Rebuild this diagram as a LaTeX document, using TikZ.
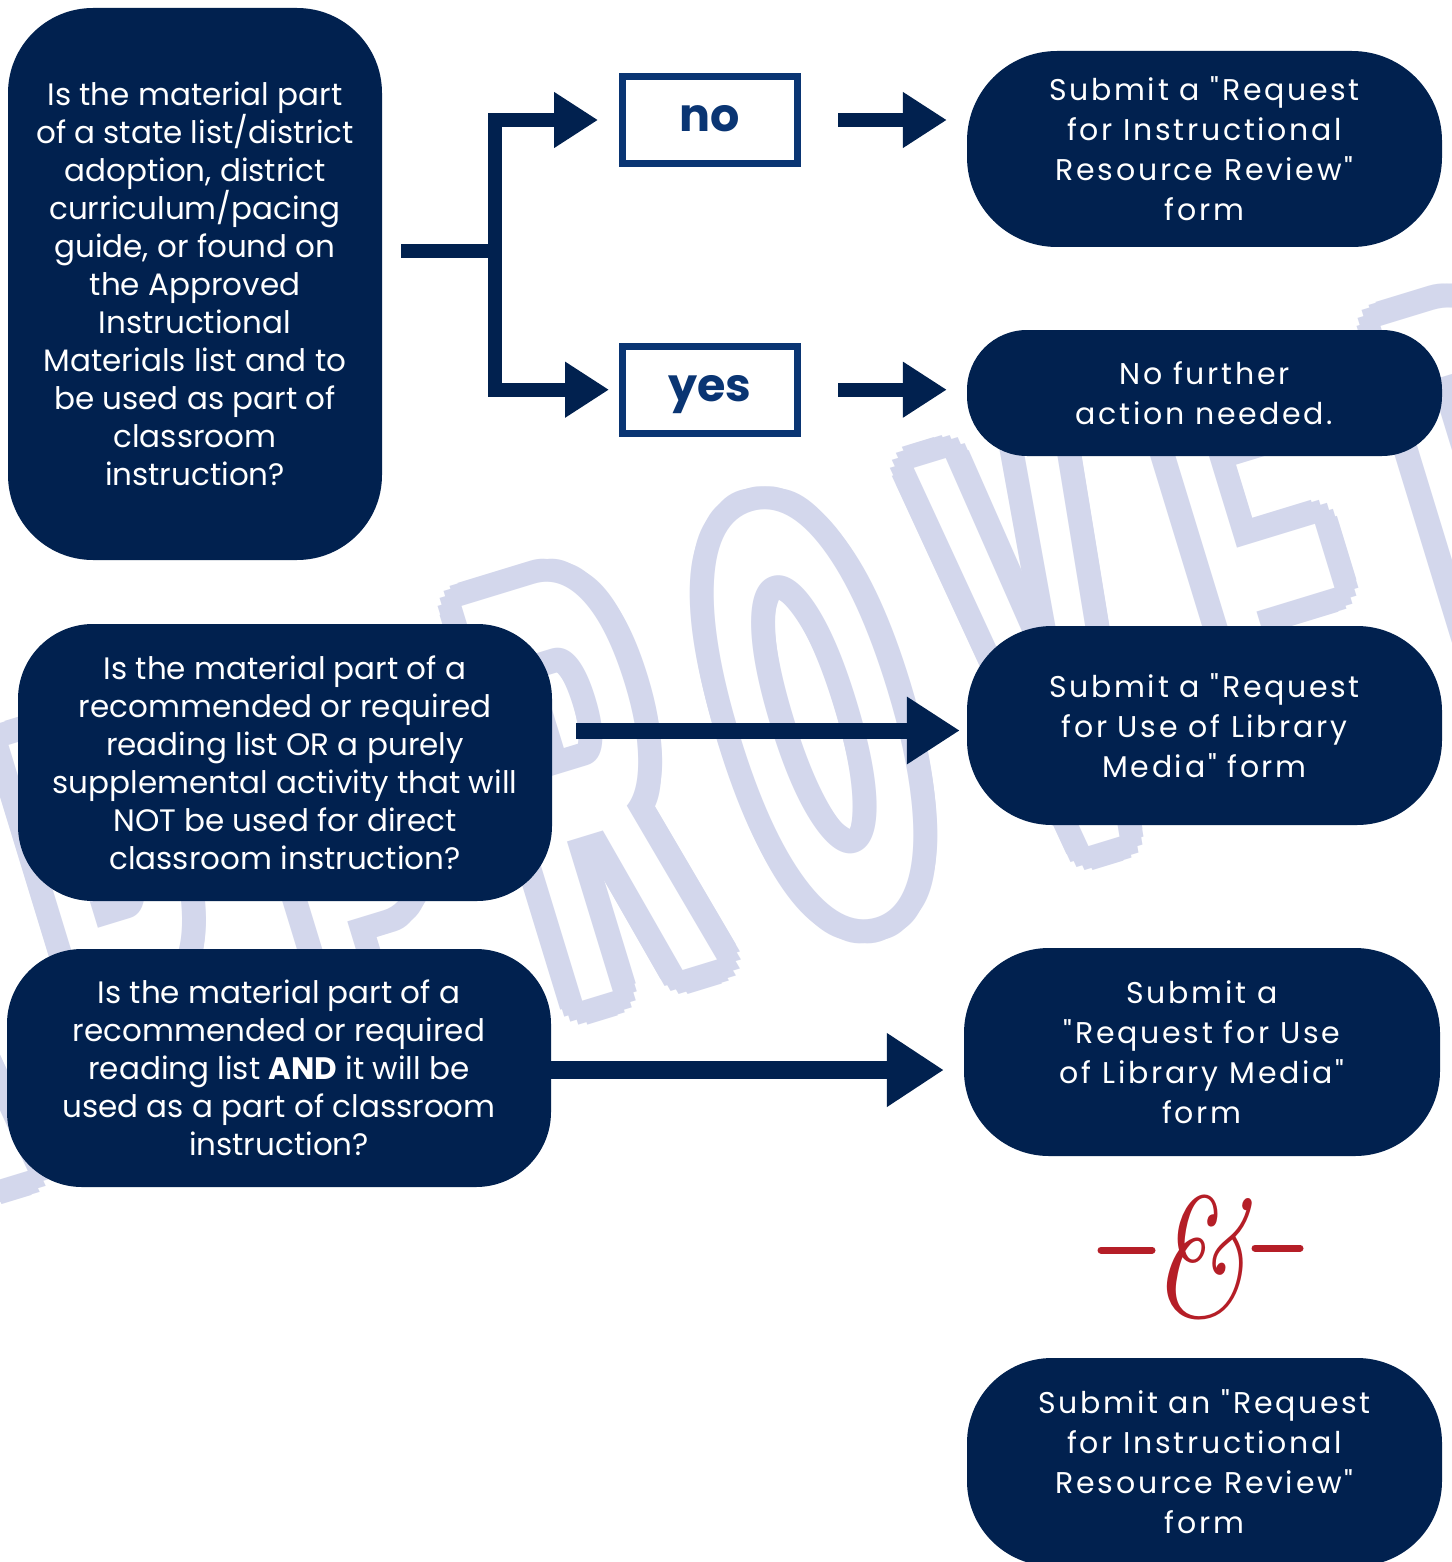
\documentclass[tikz,border=0pt]{standalone}
\usepackage{fontspec}
\usepackage{graphicx}
\setmainfont{Poppins}[Ligatures=TeXOff]
\newfontfamily\stampfont{Liberation Sans}
\newfontfamily\ampfont{Latin Modern Roman}
\usetikzlibrary{arrows.meta,calc}
\definecolor{navy}{HTML}{01214F}
\definecolor{boxblue}{HTML}{0A3573}
\definecolor{ampred}{HTML}{B51E27}
\definecolor{stampc}{HTML}{D3D7EC}
\tikzset{%
  tipS/.tip={Triangle[length=44pt,width=53pt]},
  tipM/.tip={Triangle[length=53pt,width=64pt]},
  tipL/.tip={Triangle[length=57pt,width=70pt]},
  bar/.style={navy, line width=14pt},
  qbox/.style={fill=navy, text=white, align=center, inner sep=0pt,
    font=\fontsize{31}{38}\selectfont},
  abox/.style={fill=navy, text=white, align=center, inner sep=0pt,
    font=\fontsize{30}{40}\selectfont\addfontfeature{LetterSpace=9}},
  answer/.style={draw=boxblue, line width=7pt, text=boxblue, inner sep=0pt,
    minimum width=175pt, minimum height=87pt, text height=24pt, text depth=0pt,
    font=\fontsize{46}{46}\selectfont\bfseries},
  stamp/.style={inner sep=0pt, rotate=17,
    font=\stampfont\bfseries\fontsize{600}{600}\selectfont}
}

\begin{document}
\begin{tikzpicture}[x=1pt,y=-1pt]
\useasboundingbox (0,0) rectangle (1451,1562);
\fill[white] (0,0) rectangle (1451,1562);
% watermark stamp
\foreach \ltr [count=\i] in {A,P,P,R,O,V,E,D}{
  \coordinate (wm\i) at ($(700,750)+({(\i-4.5)*240*cos(17)},{-(\i-4.5)*240*sin(17)})$);
  \foreach \a in {0,20,...,340}
    \node[stamp, text=stampc] at ($(wm\i)+(\a:24)$) {\scalebox{0.37}[1]{\ltr}};
  \node[stamp, text=white] at (wm\i) {\scalebox{0.37}[1]{\ltr}};
}
% questions
\node[qbox, minimum width=374pt, minimum height=552pt, rounded corners=85pt] (qa) at (195,284)
  {Is the material part\\of a state list/district\\adoption, district\\curriculum/pacing\\guide, or found on\\the Approved\\Instructional\\Materials list and to\\be used as part of\\classroom\\instruction?};
\node[qbox, minimum width=534pt, minimum height=277pt, rounded corners=75pt] (qb) at (285,762.5)
  {Is the material part of a\\recommended or required\\reading list OR a purely\\supplemental activity that will\\NOT be used for direct\\classroom instruction?};
\node[qbox, minimum width=544pt, minimum height=238pt, rounded corners=75pt] (qc) at (279,1068)
  {Is the material part of a\\recommended or required\\reading list \textbf{AND} it will be\\used as a part of classroom\\instruction?};
% answers
\node[answer] (nobox) at (710,120) {no};
\node[answer] (yesbox) at (710,389.7) {yes};
% actions
\node[abox, minimum width=475pt, minimum height=196pt, rounded corners=90pt] (ra) at (1204.5,149)
  {Submit a "Request\\for Instructional\\Resource Review"\\form};
\node[abox, minimum width=475pt, minimum height=126pt, rounded corners=60pt] (rb) at (1204.5,393)
  {No further\\action needed.};
\node[abox, minimum width=475pt, minimum height=199pt, rounded corners=85pt] (rc) at (1204.5,725.5)
  {Submit a "Request\\for Use of Library\\Media" form};
\node[abox, minimum width=476pt, minimum height=208pt, rounded corners=85pt] (rd) at (1202,1052)
  {Submit a\\"Request for Use\\of Library Media"\\form};
\node[abox, minimum width=475pt, minimum height=208pt, rounded corners=85pt] (re) at (1204.5,1462)
  {Submit an "Request\\for Instructional\\Resource Review"\\form};
% ampersand
\node[text=ampred, inner sep=0pt, font=\ampfont\itshape\fontsize{170}{170}\selectfont] (amp) at (1199,1257) {\scalebox{0.75}[1]{\&}};
\draw[ampred, line width=7pt, line cap=round] (1101,1250) -- (1152,1250);
\draw[ampred, line width=7pt, line cap=round] (1255,1248) -- (1300,1248);
% branch
\coordinate (fork) at (495,251);
\draw[bar] ([xshift=19pt]qa.east |- fork) -- (fork);
\draw[bar, -tipS, shorten >=21pt] (fork) |- (nobox.west);
\draw[bar, -tipS, shorten >=10pt] (fork) |- (yesbox.west);
\draw[bar, -tipS, shorten <=37pt, shorten >=20pt] (nobox.east) -- (nobox.east -| ra.west);
\draw[bar, -tipS, shorten <=37pt, shorten >=20pt] (yesbox.east) -- (yesbox.east -| rb.west);
\draw[bar, line width=16pt, -tipM, shorten <=24pt, shorten >=7pt] ([yshift=32pt]qb.east) -- ([yshift=32pt]qb.east -| rc.west);
\draw[bar, line width=18pt, -tipL, shorten >=20pt] ([yshift=-2pt]qc.east) -- ([yshift=-2pt]qc.east -| rd.west);
\end{tikzpicture}
\end{document}
